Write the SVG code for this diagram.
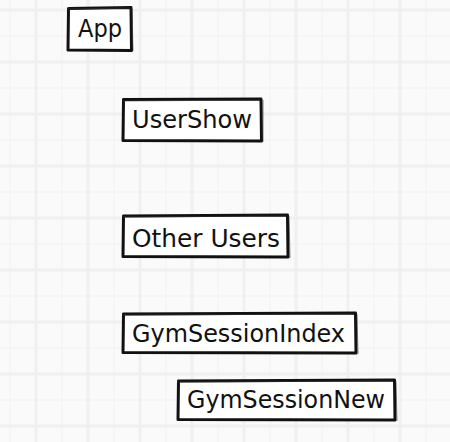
<svg xmlns="http://www.w3.org/2000/svg" width="450" height="442" viewBox="0 0 450 442">
  <style>
    .bg { fill: #fafafa; }
    .major { stroke: #f0f0f0; stroke-width: 3; fill: none; }
    .minor { stroke: #f2f2f2; stroke-width: 1; fill: none; }
    .box { fill: #ffffff; stroke: #111111; stroke-width: 3; stroke-linejoin: round; }
    .box2 { fill: none; stroke: #333333; stroke-width: 1; opacity: 0.6; }
    .lbl { font-family: "DejaVu Sans", "Liberation Sans", sans-serif; font-size: 24px; fill: #111111; }
  </style>
  <rect class="bg" x="0" y="0" width="450" height="442"/>
  <g id="grid">
    <path class="minor" d="M10 0V442M62 0V442M114 0V442M166 0V442M218 0V442M270 0V442M322 0V442M374 0V442M426 0V442M0 36H450M0 88H450M0 140H450M0 192H450M0 244H450M0 296H450M0 348H450M0 400H450"/>
    <path class="major" d="M36 0V442M88 0V442M140 0V442M192 0V442M244 0V442M296 0V442M348 0V442M400 0V442M0 10H450M0 62H450M0 114H450M0 166H450M0 218H450M0 270H450M0 322H450M0 374H450M0 426H450"/>
  </g>
  <g id="connectors"></g>
  <g id="app">
    <path class="box" d="M68.5 8.5 L131 7.5 L131.5 50.5 L68 50 Z"/>
    <path class="box2" d="M67 9 L130 8 M132 9 L133 51"/>
    <text class="lbl" x="78" y="37" textLength="44" lengthAdjust="spacingAndGlyphs">App</text>
  </g>
  <g id="usershow">
    <path class="box" d="M123.5 99.5 L261 99 L261.5 141 L123 140.5 Z"/>
    <path class="box2" d="M122 101 L260 100 M263 100 L263 142"/>
    <text class="lbl" x="132" y="128" textLength="120" lengthAdjust="spacingAndGlyphs">UserShow</text>
  </g>
  <g id="otherusers">
    <path class="box" d="M123.5 216 L287.5 215 L288 257 L123 256.5 Z"/>
    <path class="box2" d="M122 217 L286 216 M289 216 L290 258"/>
    <text class="lbl" x="132" y="247" textLength="148" lengthAdjust="spacingAndGlyphs">Other Users</text>
  </g>
  <g id="gymsessionindex">
    <path class="box" d="M123.5 314 L355.5 313 L356 353 L123 352.5 Z"/>
    <path class="box2" d="M122 315 L354 314 M357 314 L358 354"/>
    <text class="lbl" x="132" y="342" textLength="213" lengthAdjust="spacingAndGlyphs">GymSessionIndex</text>
  </g>
  <g id="gymsessionnew">
    <path class="box" d="M178.5 381 L394.5 380 L395 420 L178 419.5 Z"/>
    <path class="box2" d="M177 382 L393 381 M396 381 L397 421"/>
    <text class="lbl" x="187" y="408" textLength="198" lengthAdjust="spacingAndGlyphs">GymSessionNew</text>
  </g>
</svg>
